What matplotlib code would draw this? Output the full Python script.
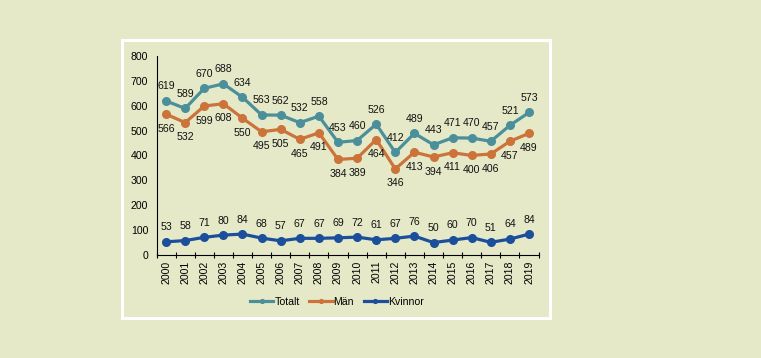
import matplotlib
matplotlib.use("Agg")
import matplotlib.pyplot as plt
import matplotlib.patches as patches

plt.rcParams['font.family'] = ['Liberation Sans', 'DejaVu Sans']

years = [str(y) for y in range(2000, 2020)]
totalt = [619, 589, 670, 688, 634, 563, 562, 532, 558, 453,
          460, 526, 412, 489, 443, 471, 470, 457, 521, 573]
man = [566, 532, 599, 608, 550, 495, 505, 465, 491, 384,
       389, 464, 346, 413, 394, 411, 400, 406, 457, 489]
kvinnor = [53, 58, 71, 80, 84, 68, 57, 67, 67, 69,
           72, 61, 67, 76, 50, 60, 70, 51, 64, 84]

bg = '#e6e9c8'
series = [
    ('Totalt', totalt, '#4b8f9b', 1),
    ('Män', man, '#cc733a', -1),
    ('Kvinnor', kvinnor, '#1b4f9b', 1),
]

fig = plt.figure(figsize=(7.61, 3.58), dpi=100)
fig.patch.set_facecolor(bg)

# white frame around the chart
fig.patches.append(patches.Rectangle((122 / 761, 1 - 318 / 358), 428 / 761, 278 / 358,
                                     transform=fig.transFigure, fill=False,
                                     edgecolor='white', linewidth=2.2))

ax = fig.add_axes([0.2057, 0.2877, 0.502, 0.556])
ax.set_facecolor(bg)

x = list(range(len(years)))
for name, vals, col, side in series:
    ax.plot(x, vals, color=col, linewidth=2.3, marker='o', markersize=5.5, label=name)
    for xi, v in zip(x, vals):
        ax.annotate(str(v), (xi, v), xytext=(0, 10.5 * side), textcoords='offset points',
                    ha='center', va='center', fontsize=7.6, color='#111111')

ax.set_xlim(-0.5, len(years) - 0.5)
ax.set_ylim(0, 800)
ax.set_yticks(range(0, 801, 100))
ax.tick_params(axis='y', length=0, labelsize=7.6, pad=6)
ax.set_xticks(x)
ax.set_xticklabels(years, rotation=90, fontsize=7.6)
ax.tick_params(axis='x', which='major', length=0, pad=4)
ax.set_xticks([i + 0.5 for i in range(-1, len(years))], minor=True)
ax.tick_params(axis='x', which='minor', length=5, direction='inout', width=0.8)

for s in ['top', 'right']:
    ax.spines[s].set_visible(False)
ax.spines['left'].set_linewidth(0.8)
ax.spines['bottom'].set_linewidth(0.8)

handles, labels = ax.get_legend_handles_labels()
fig.legend(handles, labels, loc='center', bbox_to_anchor=(337 / 761, 1 - 302 / 358),
           ncol=3, frameon=False, fontsize=7.6, handlelength=2.2, handletextpad=0.1,
           columnspacing=0.9, markerscale=0.5)

fig.savefig('out.png', dpi=100, facecolor=bg)
